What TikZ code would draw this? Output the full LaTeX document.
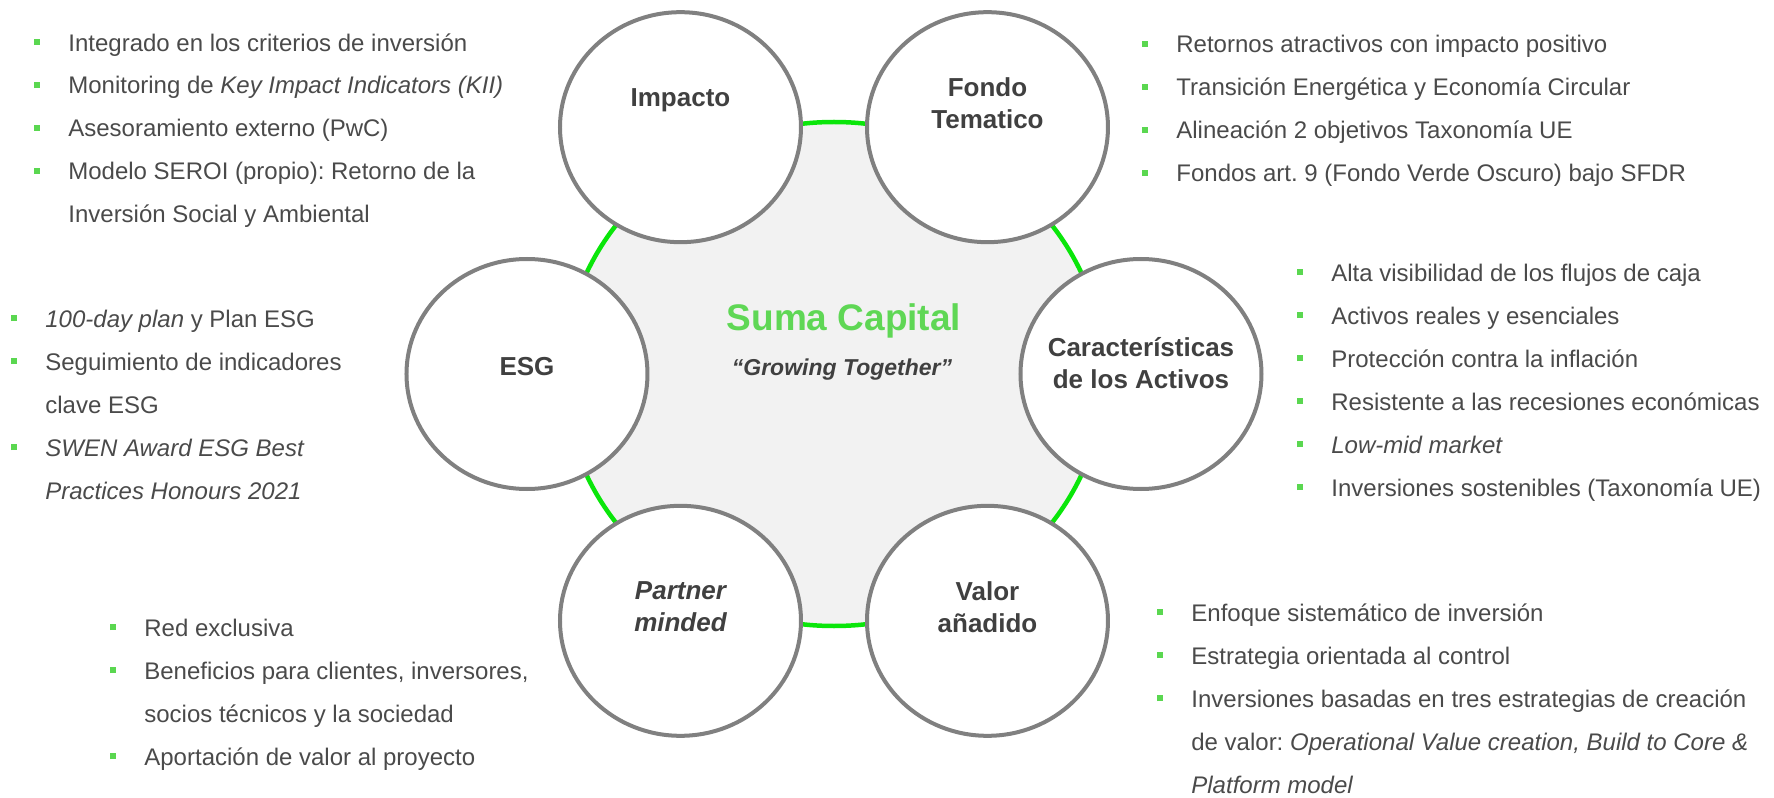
\documentclass[tikz,border=0pt]{standalone}
\usepackage{fontspec}
\setmainfont{Liberation Sans}
\usetikzlibrary{shapes.geometric}
\frenchspacing

\definecolor{ringgreen}{RGB}{10,230,10}
\definecolor{titlegreen}{RGB}{95,215,85}
\definecolor{bulgreen}{RGB}{90,215,80}
\definecolor{txtgray}{RGB}{74,74,74}
\definecolor{lblgray}{RGB}{64,64,64}
\definecolor{edgegray}{RGB}{128,128,128}
\definecolor{coregray}{RGB}{242,242,242}

\newcommand\bul{\makebox[17pt][l]{\textcolor{bulgreen}{\rule[3pt]{3pt}{3pt}}}}
\newcommand\cont{\hspace*{17pt}}

\tikzset{
  core/.style={ellipse, draw=ringgreen, line width=2.25pt, fill=coregray,
    minimum width=270pt, minimum height=252pt, inner sep=0pt},
  petal/.style={ellipse, draw=edgegray, line width=2pt, fill=white,
    minimum width=120.5pt, minimum height=115pt, inner sep=0pt},
  lbl/.style={align=center, inner sep=0pt, text=lblgray,
    font=\bfseries\fontsize{13}{16}\selectfont},
  blk/.style={anchor=base west, align=left, inner sep=0pt, text=txtgray,
    font=\fontsize{12}{21.5}\selectfont}
}

\begin{document}
\begin{tikzpicture}[x=0.5pt,y=0.5pt]
  \useasboundingbox (-834,-424) rectangle (940,374);
  \node[core] (core) at (0,0) {};
  \draw
    (120:307 and 285) node[petal] (imp){}
    (60:307 and 285) node[petal] (fondo){}
    (180:307 and 285) node[petal] (esg){}
    (0:307 and 285) node[petal] (activos){}
    (240:307 and 285) node[petal] (partner){}
    (300:307 and 285) node[petal] (valor){};

  % titles
  \node[text=titlegreen, font=\bfseries\fontsize{18.5}{22}\selectfont] (suma) at (10,53) {Suma Capital};
  \node[text=lblgray, font=\bfseries\itshape\fontsize{11.5}{14}\selectfont] (lema) at (8,4) {“Growing Together”};

  \node[lbl] (impl) at ([yshift=13.5pt]imp.center) {Impacto};
  \node[lbl] (fondol) at ([yshift=12pt]fondo.center) {Fondo\\Tematico};
  \node[lbl] (esgl) at ([yshift=3.5pt]esg.center) {ESG};
  \node[lbl] (activosl) at ([yshift=5.5pt]activos.center) {Características\\de los Activos};
  \node[lbl, font=\bfseries\itshape\fontsize{13}{16}\selectfont] (partnerl) at ([yshift=7pt]partner.center) {Partner\\minded};
  \node[lbl] (valorl) at ([yshift=7pt]valor.center) {Valor\\añadido};

  % bullet lists (anchored at the baseline of their last line)
  \node[blk] (impb) at (-800,151) {\bul Integrado en los criterios de inversión\\
    \bul Monitoring de \textit{Key Impact Indicators (KII)}\\
    \bul Asesoramiento externo (PwC)\\
    \bul Modelo SEROI (propio): Retorno de la\\
    \cont Inversión Social y Ambiental};
  \node[blk] (fondob) at (308,192) {\bul Retornos atractivos con impacto positivo\\
    \bul Transición Energética y Economía Circular\\
    \bul Alineación 2 objetivos Taxonomía UE\\
    \bul Fondos art. 9 (Fondo Verde Oscuro) bajo SFDR};
  \node[blk] (activosb) at (463,-122) {\bul Alta visibilidad de los flujos de caja\\
    \bul Activos reales y esenciales\\
    \bul Protección contra la inflación\\
    \bul Resistente a las recesiones económicas\\
    \bul \textit{Low-mid market}\\
    \bul Inversiones sostenibles (Taxonomía UE)};
  \node[blk] (esgb) at (-823,-125) {\bul \textit{100-day plan} y Plan ESG\\
    \bul Seguimiento de indicadores\\
    \cont clave ESG\\
    \bul \textit{SWEN Award ESG Best}\\
    \cont \textit{Practices Honours 2021}};
  \node[blk] (partnerb) at (-724,-391) {\bul Red exclusiva\\
    \bul Beneficios para clientes, inversores,\\
    \cont socios técnicos y la sociedad\\
    \bul Aportación de valor al proyecto};
  \node[blk] (valorb) at (323,-419) {\bul Enfoque sistemático de inversión\\
    \bul Estrategia orientada al control\\
    \bul Inversiones basadas en tres estrategias de creación\\
    \cont de valor: \textit{Operational Value creation, Build to Core \&}\\
    \cont \textit{Platform model}};
\end{tikzpicture}
\end{document}
